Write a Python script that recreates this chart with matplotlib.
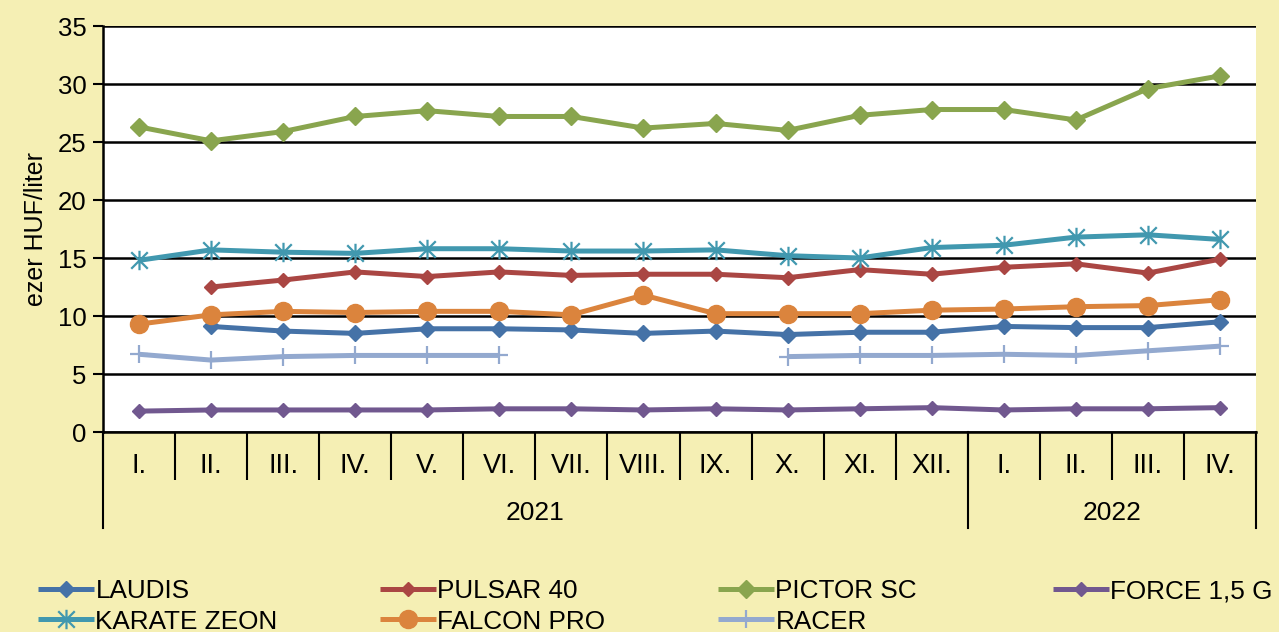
import numpy as np
import matplotlib
matplotlib.use("Agg")
import matplotlib.pyplot as plt
from matplotlib.path import Path
from matplotlib.lines import Line2D
import matplotlib.transforms as mtransforms

plt.rcParams['font.family'] = ['Liberation Sans', 'DejaVu Sans']

months = ["I.", "II.", "III.", "IV.", "V.", "VI.", "VII.", "VIII.", "IX.", "X.", "XI.", "XII.",
          "I.", "II.", "III.", "IV."]
years = ["2021", "2022"]
year_counts = [12, 4]
nan = np.nan

laudis = [nan, 9.1, 8.7, 8.5, 8.9, 8.9, 8.8, 8.5, 8.7, 8.4, 8.6, 8.6, 9.1, 9.0, 9.0, 9.5]
pulsar = [nan, 12.5, 13.1, 13.8, 13.4, 13.8, 13.5, 13.6, 13.6, 13.3, 14.0, 13.6, 14.2, 14.5, 13.7, 14.9]
pictor = [26.3, 25.1, 25.9, 27.2, 27.7, 27.2, 27.2, 26.2, 26.6, 26.0, 27.3, 27.8, 27.8, 26.9, 29.6, 30.7]
force = [1.8, 1.9, 1.9, 1.9, 1.9, 2.0, 2.0, 1.9, 2.0, 1.9, 2.0, 2.1, 1.9, 2.0, 2.0, 2.1]
karate = [14.8, 15.7, 15.5, 15.4, 15.8, 15.8, 15.6, 15.6, 15.7, 15.2, 15.0, 15.9, 16.1, 16.8, 17.0, 16.6]
falcon = [9.3, 10.1, 10.4, 10.3, 10.4, 10.4, 10.1, 11.8, 10.2, 10.2, 10.2, 10.5, 10.6, 10.8, 10.9, 11.4]
racer = [6.7, 6.2, 6.5, 6.6, 6.6, 6.6, nan, nan, nan, 6.5, 6.6, 6.6, 6.7, 6.6, 7.0, 7.4]

names = ["LAUDIS", "PULSAR 40", "PICTOR SC", "FORCE 1,5 G", "KARATE ZEON", "FALCON PRO", "RACER"]

BG = '#F5EFB4'
fig = plt.figure(figsize=(12.79, 6.32), dpi=100, facecolor=BG)
ax = fig.add_axes([103/1279, 1-432/632, (1256-103)/1279, (432-26)/632])
ax.set_facecolor('white')

x = np.arange(len(months))

ast = Path([(0, -1), (0, 1), (-0.85, -0.85), (0.85, 0.85), (-0.85, 0.85), (0.85, -0.85)],
           [Path.MOVETO, Path.LINETO, Path.MOVETO, Path.LINETO, Path.MOVETO, Path.LINETO])

styles = [
    (laudis, '#4572A7', 'D', 8.5, 1.0),
    (pulsar, '#AA4643', 'D', 7.5, 1.0),
    (pictor, '#89A54E', 'D', 9.0, 1.0),
    (force, '#71588F', 'D', 7.5, 1.0),
    (karate, '#4198AF', ast, 14.0, 1.6),
    (falcon, '#DB843D', 'o', 13.0, 1.0),
    (racer, '#93A9CF', '+', 12.5, 1.6),
]
handles = []
for (vals, col, mk, ms, mew), nm in zip(styles, names):
    h, = ax.plot(x, vals, color=col, lw=3.6, marker=mk, ms=ms, mfc=col, mec=col, mew=mew,
                 label=nm, zorder=3, solid_capstyle='butt')
    handles.append(h)

ax.set_xlim(-0.5, len(months) - 0.5)
ax.set_ylim(0, 35)
ax.set_yticks(np.arange(0, 36, 5))
ax.yaxis.grid(True, color='black', lw=1.8)
ax.set_axisbelow(True)
for s in ['top', 'right']:
    ax.spines[s].set_visible(False)
ax.spines['left'].set_linewidth(1.8)
ax.spines['bottom'].set_linewidth(1.8)
ax.tick_params(axis='y', direction='out', length=7, width=1.5, pad=5, labelsize=18.5)

ax.set_xticks(np.arange(-0.5, len(months), 1.0))
ax.set_xticklabels([])
ax.tick_params(axis='x', direction='out', length=34.5, width=1.5)

trans = mtransforms.blended_transform_factory(ax.transData, ax.transAxes)
for i, m in enumerate(months):
    ax.text(i, -34/406, m, transform=trans, ha='center', va='center', fontsize=19.5)

start = -0.5
for yr, cnt in zip(years, year_counts):
    ax.text(start + cnt/2, -81/406, yr, transform=trans, ha='center', va='center', fontsize=19)
    start += cnt
bounds = np.concatenate([[-0.5], -0.5 + np.cumsum(year_counts)])
for b in bounds:
    ax.add_line(Line2D([b, b], [0, -96/406], transform=trans, color='black', lw=1.5, clip_on=False))

ax.set_ylabel("ezer HUF/liter", fontsize=18, labelpad=7)

cols = [[0, 4], [1, 5], [2, 6], [3]]
col_x = [38, 380, 718, 1053]
for cidx, cx in zip(cols, col_x):
    fig.legend(handles=[handles[i] for i in cidx], loc='upper left',
               bbox_to_anchor=(cx/1279, 1-579/632), frameon=False, fontsize=18.8,
               handlelength=2.15, handletextpad=0.05, labelspacing=0.25, borderpad=0,
               borderaxespad=0)

fig.savefig("out.png", dpi=100, facecolor=BG)
